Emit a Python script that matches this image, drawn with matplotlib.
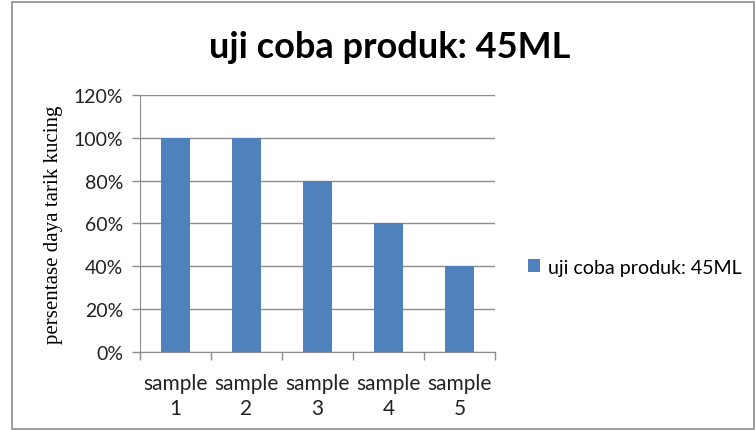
import matplotlib
matplotlib.use('Agg')
import matplotlib.pyplot as plt
from matplotlib.patches import Rectangle

# data
samples = ['sample\n1', 'sample\n2', 'sample\n3', 'sample\n4', 'sample\n5']
values = [1.0, 1.0, 0.8, 0.6, 0.4]
series_name = 'uji coba produk: 45ML'
yticks = [0, 0.2, 0.4, 0.6, 0.8, 1.0, 1.2]

plt.rcParams['font.family'] = ['Lato', 'DejaVu Sans']

fig = plt.figure(figsize=(7.56, 4.31), dpi=100)
ax = fig.add_axes([0.1852, 0.181, 0.4696, 0.5963])

x = list(range(len(samples)))
bars = ax.bar(x, values, width=0.4, color='#4f81bd', label=series_name, zorder=3)

ax.set_xlim(-0.5, len(samples) - 0.5)
ax.set_ylim(0, 1.2)
ax.set_yticks(yticks)
ax.set_yticklabels(['{:.0f}%'.format(v * 100) for v in yticks], fontsize=14, color='#222222')
ax.yaxis.grid(True, color='#8c8c8c', linewidth=1, zorder=0)

# category labels centred, tick marks on the boundaries
ax.set_xticks(x)
ax.set_xticklabels(samples, fontsize=15, color='#222222', linespacing=1.35)
ax.tick_params(axis='x', length=0, pad=15)
ax.set_xticks([i - 0.5 for i in range(len(samples) + 1)], minor=True)
ax.tick_params(axis='x', which='minor', length=6, color='#8c8c8c', width=1)
ax.tick_params(axis='y', length=6, color='#8c8c8c', width=1, pad=6)

for s in ['top', 'right']:
    ax.spines[s].set_visible(False)
for s in ['left', 'bottom']:
    ax.spines[s].set_color('#8c8c8c')

ax.set_ylabel('persentase daya tarik kucing', family='Liberation Serif', fontsize=15, labelpad=8)

fig.text(0.515, 0.89, series_name, ha='center', va='center',
         fontsize=26, fontweight='bold', color='black')

ax.legend(loc='center left', bbox_to_anchor=(0.675, 0.378), bbox_transform=fig.transFigure,
          frameon=False, fontsize=14.1, handlelength=0.6, handleheight=0.6, handletextpad=0.45)

fig.patches.append(Rectangle((12 / 756, 1 / 431), 742 / 756, 427 / 431, transform=fig.transFigure,
                             fill=False, edgecolor='#8c8c8c', linewidth=1.2))

fig.savefig('out.png', dpi=100)
